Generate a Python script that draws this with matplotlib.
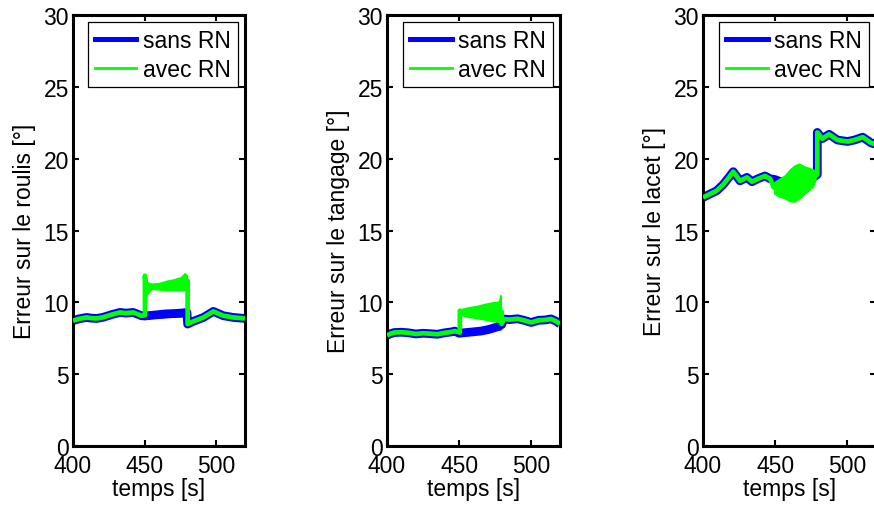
import matplotlib
matplotlib.use("Agg")
import matplotlib.pyplot as plt
from matplotlib.lines import Line2D

plt.rcParams['font.family'] = ['Liberation Sans', 'DejaVu Sans']

# ---------------- data ----------------
# Roulis
r_t_sans = [400, 404, 409.5, 413, 416.5, 421, 427, 432.8, 437, 442, 447.8, 450, 455, 460, 465, 470, 475, 479.5, 480, 484, 491, 497.9, 504.9, 511.9, 520]
r_v_sans = [8.72, 8.85, 8.95, 8.9, 8.88, 8.96, 9.15, 9.30, 9.25, 9.30, 9.07, 9.05, 9.1, 9.15, 9.2, 9.22, 9.25, 9.3, 8.49, 8.68, 8.95, 9.37, 9.07, 8.95, 8.88]
r_t_sband = [450, 460, 470, 479.5]
r_sband_lo = [8.85, 8.9, 8.95, 9.0]
r_sband_hi = [9.2, 9.3, 9.4, 9.5]
r_t_avec = [400, 404, 409.5, 413, 416.5, 421, 427, 432.8, 437, 442, 447.8, 450.2, 450.2, 451, 453, 456, 460, 465, 470, 475, 478, 480, 480, 484, 491, 497.9, 504.9, 511.9, 520]
r_v_avec = [8.72, 8.85, 8.95, 8.9, 8.88, 8.96, 9.15, 9.30, 9.25, 9.30, 9.07, 9.1, 11.85, 11.0, 10.9, 11.1, 11.1, 11.15, 11.2, 11.3, 11.4, 11.5, 8.49, 8.68, 8.95, 9.37, 9.07, 8.95, 8.88]
r_t_aband = [450.2, 451, 452, 455, 460, 465, 470, 475, 478, 480]
r_aband_lo = [10.0, 10.1, 10.5, 10.9, 10.85, 10.8, 10.8, 10.8, 10.8, 10.9]
r_aband_hi = [11.85, 11.6, 11.45, 11.35, 11.4, 11.55, 11.65, 11.8, 12.1, 11.9]

# Tangage
g_t_sans = [400, 402, 405, 410, 415, 420, 425, 430, 435, 440, 445, 447, 450, 455, 460, 465, 470, 475, 479.5, 481, 485, 490.5, 495, 500, 505, 510, 513.7, 517, 520]
g_v_sans = [7.7, 7.8, 7.9, 7.92, 7.88, 7.8, 7.85, 7.82, 7.78, 7.88, 7.95, 8.0, 7.85, 7.9, 7.95, 8.0, 8.1, 8.25, 8.45, 8.84, 8.8, 8.86, 8.75, 8.6, 8.75, 8.78, 8.85, 8.7, 8.5]
g_t_sband = [450, 458, 465, 472, 479.5]
g_sband_lo = [7.7, 7.75, 7.8, 7.95, 8.1]
g_sband_hi = [8.0, 8.05, 8.2, 8.4, 8.65]
g_t_avec = [400, 402, 405, 410, 415, 420, 425, 430, 435, 440, 445, 447, 450.5, 450.5, 455, 460, 465, 470, 475, 479.5, 479.5, 481, 485, 490.5, 495, 500, 505, 510, 513.7, 517, 520]
g_v_avec = [7.7, 7.8, 7.9, 7.92, 7.88, 7.8, 7.85, 7.82, 7.78, 7.88, 7.95, 8.0, 7.9, 9.42, 9.2, 9.2, 9.25, 9.3, 9.3, 9.35, 8.5, 8.84, 8.8, 8.86, 8.75, 8.6, 8.75, 8.78, 8.85, 8.7, 8.5]
g_t_aband = [450.5, 452, 456, 462, 468, 473, 477, 478.5, 479.5]
g_aband_lo = [9.0, 9.05, 8.95, 8.85, 8.75, 8.65, 8.6, 8.6, 8.6]
g_aband_hi = [9.42, 9.6, 9.7, 9.8, 9.95, 10.05, 10.1, 10.58, 10.5]

# Lacet
l_t_sans = [400, 404, 409.5, 414, 418, 421, 425.7, 430.5, 434, 438, 443, 446.6, 450, 453.7, 460, 466, 472, 478, 479.3, 479.3, 482.8, 487.5, 493.3, 500.3, 505, 510.8, 516.6, 520]
l_v_sans = [17.3, 17.5, 17.77, 18.2, 18.7, 19.1, 18.46, 18.7, 18.4, 18.6, 18.8, 18.6, 18.55, 18.4, 18.45, 18.5, 18.6, 18.8, 18.9, 21.83, 21.4, 21.7, 21.3, 21.2, 21.3, 21.5, 21.1, 21.0]
l_t_avec = [400, 404, 409.5, 414, 418, 421, 425.7, 430.5, 434, 438, 443, 446.6, 449, 456.7, 463.6, 470.6, 476.4, 478, 479.3, 479.3, 482.8, 487.5, 493.3, 500.3, 505, 510.8, 516.6, 520]
l_v_avec = [17.3, 17.5, 17.77, 18.2, 18.7, 19.1, 18.46, 18.7, 18.4, 18.6, 18.8, 18.6, 18.0, 18.0, 18.3, 18.5, 18.6, 18.8, 18.9, 21.83, 21.4, 21.7, 21.3, 21.2, 21.3, 21.5, 21.1, 21.0]
l_t_aband = [449, 452, 456.7, 460, 463.6, 467, 470.6, 474, 476.4, 478.5]
l_aband_lo = [17.54, 17.35, 17.19, 17.0, 16.96, 17.2, 17.5, 17.8, 18.0, 18.5]
l_aband_hi = [18.4, 18.6, 18.9, 19.3, 19.6, 19.7, 19.5, 19.4, 19.3, 19.2]

x_ticks = [400, 450, 500]
y_ticks = [0, 5, 10, 15, 20, 25, 30]
ylabels = ['Erreur sur le roulis [°]', 'Erreur sur le tangage [°]', 'Erreur sur le lacet [°]']
xlabel = 'temps [s]'
legend_labels = ['sans RN', 'avec RN']

BLUE = '#0000ff'
GREEN = '#00ff00'
FS = 16.5

fig = plt.figure(figsize=(8.74, 5.10), dpi=100)
positions = [[0.0835, 0.1235, 0.1968, 0.845],
             [0.4428, 0.1235, 0.1980, 0.845],
             [0.8043, 0.1235, 0.1980, 0.845]]

series = [
    (r_t_sans, r_v_sans, r_t_sband, r_sband_lo, r_sband_hi, r_t_avec, r_v_avec, r_t_aband, r_aband_lo, r_aband_hi),
    (g_t_sans, g_v_sans, g_t_sband, g_sband_lo, g_sband_hi, g_t_avec, g_v_avec, g_t_aband, g_aband_lo, g_aband_hi),
    (l_t_sans, l_v_sans, None, None, None, l_t_avec, l_v_avec, l_t_aband, l_aband_lo, l_aband_hi),
]

for i, pos in enumerate(positions):
    ax = fig.add_axes(pos)
    ts, vs, tsb, slo, shi, ta, va, tab, alo, ahi = series[i]
    ax.plot(ts, vs, color=BLUE, lw=6.3, solid_joinstyle='round', solid_capstyle='butt', zorder=2)
    if tsb is not None:
        ax.fill_between(tsb, slo, shi, color=BLUE, lw=0, zorder=2)
    ax.plot(ta, va, color=GREEN, lw=3.4, solid_joinstyle='round', solid_capstyle='butt', zorder=3)
    ax.fill_between(tab, alo, ahi, color=GREEN, lw=0, zorder=3)

    ax.set_xlim(400, 520)
    ax.set_ylim(0, 30)
    ax.set_xticks(x_ticks)
    ax.set_yticks(y_ticks)
    ax.tick_params(direction='in', top=True, right=True, length=4, width=1.5,
                   labelsize=FS)
    ax.tick_params(axis='x', pad=6)
    ax.tick_params(axis='y', pad=3)
    for s in ax.spines.values():
        s.set_linewidth(2.2)
    ax.set_xlabel(xlabel, fontsize=FS, labelpad=0)
    ax.set_ylabel(ylabels[i], fontsize=FS, labelpad=5)

    handles = [Line2D([], [], color=BLUE, lw=3.6), Line2D([], [], color=GREEN, lw=2.0)]
    leg = ax.legend(handles, legend_labels, loc='upper right', fontsize=FS,
                    frameon=True, fancybox=False, edgecolor='black',
                    borderaxespad=0.3, handlelength=1.8, handletextpad=0.3,
                    borderpad=0.3, labelspacing=0.25)
    leg.get_frame().set_linewidth(0.9)
    leg.get_frame().set_alpha(1)

fig.savefig('out.png', dpi=100)
